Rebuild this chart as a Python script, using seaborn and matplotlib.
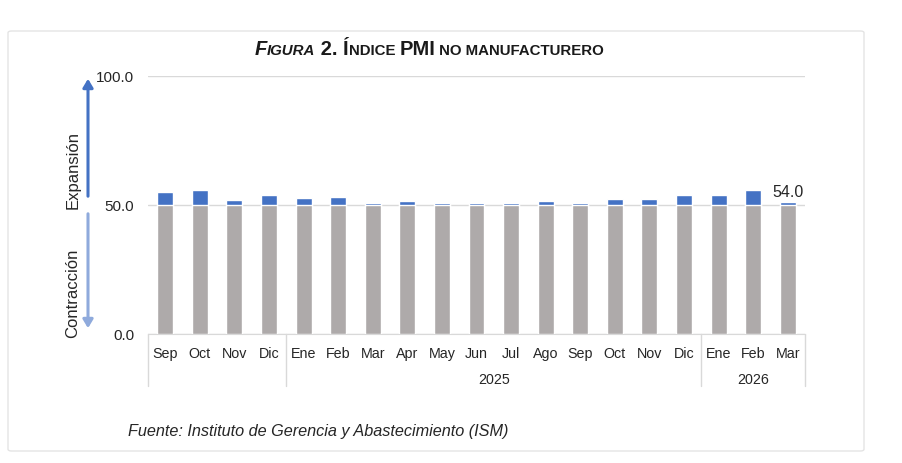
import matplotlib.pyplot as plt
import matplotlib.transforms as mtransforms
from matplotlib.patches import FancyArrowPatch, FancyBboxPatch
import pandas as pd
import seaborn as sns

# data
months = ['Sep', 'Oct', 'Nov', 'Dic', 'Ene', 'Feb', 'Mar', 'Apr', 'May', 'Jun',
          'Jul', 'Ago', 'Sep', 'Oct', 'Nov', 'Dic', 'Ene', 'Feb', 'Mar']
years = [2024] * 4 + [2025] * 12 + [2026] * 3
pmi = [54.9, 56.0, 52.1, 54.0, 52.8, 53.2, 50.7, 51.6, 50.7, 50.7,
       50.7, 51.7, 50.7, 52.2, 52.2, 53.9, 53.9, 56.0, 51.0]
base = 50.0
last_label = '54.0'
last_label_value = 54.0
shown_years = [2025, 2026]
yticks = [0.0, 50.0, 100.0]

title_parts = [('F', 14.5, 'italic'), ('IGURA', 10.8, 'italic'), (' 2. ', 14.5, 'normal'),
               ('Í', 14.5, 'normal'), ('NDICE ', 10.8, 'normal'), ('PMI', 14.5, 'normal'),
               (' NO MANUFACTURERO', 10.8, 'normal')]
source = 'Fuente: Instituto de Gerencia y Abastecimiento (ISM)'

BLUE = '#4472C4'
GRAY = '#AEAAAA'
LIGHT_BLUE = '#8FAADC'
GRID = '#D9D9D9'
TXT = '#262626'
W, H = 902, 464

sns.set_style('white')
plt.rcParams['font.family'] = ['Liberation Sans', 'DejaVu Sans']


def px(x, y):
    return x / W, 1 - y / H


df = pd.DataFrame({
    'period': [f'{y}-{i:02d}' for i, y in enumerate(years)],
    'pmi': pmi,
    'base': [base] * len(pmi),
})

fig = plt.figure(figsize=(W / 100, H / 100), dpi=100)
fig.patch.set_facecolor('white')

# outer frame
frame = FancyBboxPatch(px(8, 452), (864 - 8) / W, (452 - 32) / H,
                       boxstyle='round,pad=0,rounding_size=0.004',
                       transform=fig.transFigure, facecolor='none',
                       edgecolor='#E4E4E4', lw=1)
fig.add_artist(frame)

l, b = px(148, 335)
r, t = px(805, 77)
ax = fig.add_axes([l, b, r - l, t - b])

sns.barplot(data=df, x='period', y='pmi', color=BLUE, width=0.46,
            saturation=1, ax=ax, zorder=2)
sns.barplot(data=df, x='period', y='base', color=GRAY, width=0.46,
            saturation=1, ax=ax, zorder=3)

ax.set_xlim(-0.5, len(pmi) - 0.5)
ax.set_ylim(0, 100)
ax.set_yticks(yticks)
ax.set_yticklabels([f'{v:.1f}' for v in yticks], fontsize=11, color=TXT)
ax.set_xticks(range(len(months)))
ax.set_xticklabels(months, fontsize=10.3, color=TXT)
ax.tick_params(axis='both', length=0)
ax.tick_params(axis='y', pad=10)
ax.tick_params(axis='x', pad=9)
ax.set_xlabel('')
ax.set_ylabel('')
ax.yaxis.grid(True, color=GRID, lw=1)
ax.set_axisbelow(True)
for side in ['left', 'top', 'right']:
    ax.spines[side].set_visible(False)
ax.spines['bottom'].set_color(GRID)

# data label on the last bar
ax.annotate(last_label, (len(pmi) - 1, last_label_value), xytext=(0, -1),
            textcoords='offset points', ha='center', va='baseline',
            fontsize=11.5, color=TXT, zorder=5)

# two-level category axis
trans = mtransforms.blended_transform_factory(ax.transData, ax.transAxes)
bounds = [-0.5]
for i in range(1, len(years)):
    if years[i] != years[i - 1]:
        bounds.append(i - 0.5)
bounds.append(len(years) - 0.5)
for xb in bounds:
    ax.plot([xb, xb], [0, -0.2], color=GRID, lw=1, transform=trans, clip_on=False)
for yr in shown_years:
    idx = [i for i, y in enumerate(years) if y == yr]
    ax.text((idx[0] + idx[-1]) / 2, -0.175, str(yr), transform=trans,
            ha='center', va='center', fontsize=10.3, color=TXT)

# expansion / contraction arrows
fig.add_artist(FancyArrowPatch(px(88, 200), px(88, 77), transform=fig.transFigure,
                               arrowstyle='-|>,head_length=5,head_width=3',
                               color=BLUE, lw=2.2))
fig.add_artist(FancyArrowPatch(px(88, 212), px(88, 332), transform=fig.transFigure,
                               arrowstyle='-|>,head_length=5,head_width=3',
                               color=LIGHT_BLUE, lw=2.2))
fig.text(*px(73, 170), 'Expansión', rotation=90, ha='center', va='center',
         fontsize=12, color=TXT)
fig.text(*px(73, 293), 'Contracción', rotation=90, ha='center', va='center',
         fontsize=12, color=TXT)

# small-caps title built from pieces
renderer = fig.canvas.get_renderer()
pieces = []
for txt, size, style in title_parts:
    pieces.append(fig.text(0, 0, txt, fontsize=size, style=style,
                           fontweight='bold', color='#1A1A1A', va='baseline'))
widths = [p.get_window_extent(renderer).width for p in pieces]
x0 = 429 - sum(widths) / 2
for p, w in zip(pieces, widths):
    p.set_position(px(x0, 55))
    x0 += w

fig.text(*px(128, 432), source, style='italic', fontsize=11.7, color=TXT,
         ha='left', va='center')

fig.savefig('out.png', dpi=100, facecolor='white')
